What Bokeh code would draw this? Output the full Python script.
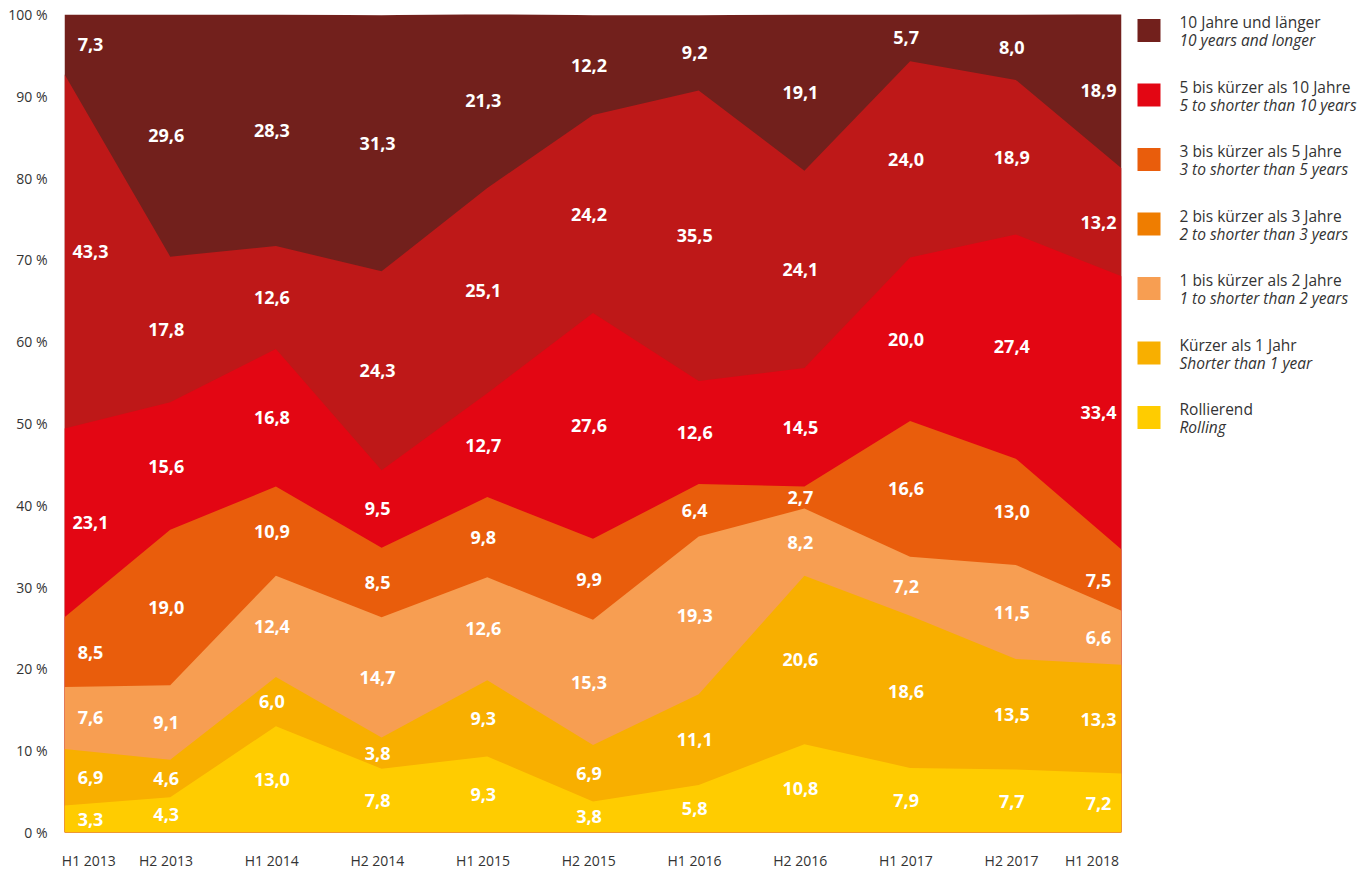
from bokeh.plotting import figure
from bokeh.models import ColumnDataSource, FixedTicker, Range1d
from bokeh.layouts import row
from bokeh.core.properties import value
from bokeh.embed import file_html
from bokeh.resources import INLINE

periods = ["H1 2013", "H2 2013", "H1 2014", "H2 2014", "H1 2015", "H2 2015",
           "H1 2016", "H2 2016", "H1 2017", "H2 2017", "H1 2018"]

# series, bottom to top
rolling = [3.3, 4.3, 13.0, 7.8, 9.3, 3.8, 5.8, 10.8, 7.9, 7.7, 7.2]
under_1 = [6.9, 4.6, 6.0, 3.8, 9.3, 6.9, 11.1, 20.6, 18.6, 13.5, 13.3]
y1_2 = [7.6, 9.1, 12.4, 14.7, 12.6, 15.3, 19.3, 8.2, 7.2, 11.5, 6.6]
y2_3 = [8.5, 19.0, 10.9, 8.5, 9.8, 9.9, 6.4, 2.7, 16.6, 13.0, 7.5]
y3_5 = [23.1, 15.6, 16.8, 9.5, 12.7, 27.6, 12.6, 14.5, 20.0, 27.4, 33.4]
y5_10 = [43.3, 17.8, 12.6, 24.3, 25.1, 24.2, 35.5, 24.1, 24.0, 18.9, 13.2]
y10_plus = [7.3, 29.6, 28.3, 31.3, 21.3, 12.2, 9.2, 19.1, 5.7, 8.0, 18.9]

series_names = ["rolling", "under_1", "y1_2", "y2_3", "y3_5", "y5_10", "y10_plus"]
series_values = [rolling, under_1, y1_2, y2_3, y3_5, y5_10, y10_plus]
area_colors = ["#FFCC00", "#F8AF00", "#F79E52", "#E95D0C", "#E30613", "#BE1818", "#72201C"]

legend_de = ["10 Jahre und länger", "5 bis kürzer als 10 Jahre", "3 bis kürzer als 5 Jahre",
             "2 bis kürzer als 3 Jahre", "1 bis kürzer als 2 Jahre", "Kürzer als 1 Jahr", "Rollierend"]
legend_en = ["10 years and longer", "5 to shorter than 10 years", "3 to shorter than 5 years",
             "2 to shorter than 3 years", "1 to shorter than 2 years", "Shorter than 1 year", "Rolling"]
legend_colors = ["#72201C", "#E30613", "#E95D0C", "#EF7D00", "#F79E52", "#F8AF00", "#FFCC00"]

y_ticks = [0, 10, 20, 30, 40, 50, 60, 70, 80, 90, 100]

FONT = value("Open Sans")
TXT = "#333333"

n = len(periods)
xs = list(range(n))

# cumulative tops of each layer
data = {"x": xs, "zero": [0.0] * n}
running = [0.0] * n
for name, vals in zip(series_names, series_values):
    running = [a + b for a, b in zip(running, vals)]
    data["top_" + name] = list(running)
src = ColumnDataSource(data)

TOP, BOTTOM = 14, 40
p = figure(width=1130, height=872, x_range=Range1d(0, n - 1), y_range=Range1d(0, 100),
           min_border_left=64, min_border_right=9, min_border_top=TOP, min_border_bottom=BOTTOM,
           toolbar_location=None, output_backend="svg", outline_line_color=None,
           background_fill_color="white", border_fill_color="white")

# draw from top layer down, each filled from 0, so no seams appear between layers
for name, col in reversed(list(zip(series_names, area_colors))):
    p.varea(x="x", y1="zero", y2="top_" + name, source=src, fill_color=col)

# labels at segment centres
lx, ly, lt, lo = [], [], [], []
for j in range(n):
    base = 0.0
    for vals in series_values:
        v = vals[j]
        lx.append(j)
        ly.append(base + v / 2.0)
        lt.append(("%.1f" % v).replace(".", ","))
        lo.append(26 if j == 0 else (-23 if j == n - 1 else -4))
        base += v
lsrc = ColumnDataSource(dict(x=lx, y=ly, t=lt, o=lo))
p.text(x="x", y="y", text="t", x_offset="o", source=lsrc, text_color="white",
       text_font=FONT, text_font_style="bold", text_font_size="18px",
       text_align="center", text_baseline="middle")

p.grid.visible = False
for ax in (p.xaxis[0], p.yaxis[0]):
    ax.axis_line_color = None
    ax.major_tick_line_color = None
    ax.minor_tick_line_color = None
    ax.major_tick_out = 0
    ax.major_tick_in = 0
    ax.minor_tick_out = 0
    ax.minor_tick_in = 0
    ax.major_label_text_font = "Open Sans"
    ax.major_label_text_color = TXT

p.yaxis.ticker = FixedTicker(ticks=y_ticks)
p.yaxis.major_label_overrides = {t: "%d %%" % t for t in y_ticks}
p.yaxis.major_label_text_font_size = "14px"
p.yaxis.major_label_standoff = 17

x_tick_pos = [j + (0.23 if j == 0 else (-0.28 if j == n - 1 else -0.04)) for j in xs]
p.xaxis.ticker = FixedTicker(ticks=x_tick_pos)
p.xaxis.major_label_overrides = {t: lab for t, lab in zip(x_tick_pos, periods)}
p.xaxis.major_label_text_font_size = "14px"
p.xaxis.major_label_standoff = 18

# legend panel (coordinates equal page pixels inside the aligned frame)
leg = figure(width=239, height=872, x_range=Range1d(0, 239), y_range=Range1d(872 - BOTTOM, TOP),
             min_border_left=0, min_border_right=0, min_border_top=TOP, min_border_bottom=BOTTOM,
             x_axis_location=None, y_axis_location=None,
             toolbar_location=None, output_backend="svg", outline_line_color=None,
             background_fill_color="white", border_fill_color="white")
leg.grid.visible = False
centers = [30 + 64.5 * k for k in range(len(legend_de))]
leg.rect(x=18.5, y=centers, width=23, height=23, color=legend_colors, line_color=None)
leg.text(x=49, y=[c - 8.5 for c in centers], text=legend_de, text_font=FONT,
         text_font_size="15.5px", text_color=TXT, text_baseline="middle")
leg.text(x=49, y=[c + 9.5 for c in centers], text=legend_en, text_font=FONT,
         text_font_style="italic", text_font_size="15.5px", text_color=TXT,
         text_baseline="middle")

layout = row(p, leg)
open("out.html", "w").write(file_html(layout, INLINE))
